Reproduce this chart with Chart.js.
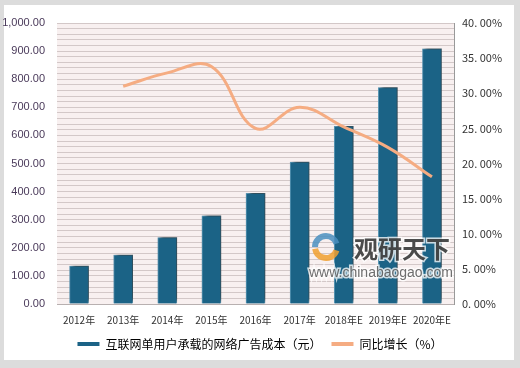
<!DOCTYPE html>
<html>
<head>
<meta charset="utf-8">
<script src="https://cdn.jsdelivr.net/npm/chart.js@4/dist/chart.umd.min.js"></script>
<style>
  body { margin: 0; background: #dcdcdc; }
  #frame { position: absolute; left: 4px; top: 5px; width: 510px; height: 355px; background: #fff; }
  #c { position: absolute; left: 0; top: 0; }
</style>
</head>
<body>
<div id="frame"></div>
<canvas id="c" width="520" height="368"></canvas>
<script>
const years = ['2012年', '2013年', '2014年', '2015年', '2016年', '2017年', '2018年E', '2019年E', '2020年E'];
const adCost = [135, 174, 236, 314, 394, 505, 632, 770, 908];
const growth = [null, 31.0, 32.9, 33.8, 25.0, 28.0, 25.2, 22.3, 18.1];

// pink plot background
const plotBg = {
  id: 'plotBg',
  beforeDraw(chart) {
    const { ctx, chartArea: a } = chart;
    ctx.save();
    ctx.fillStyle = '#f8f0f0';
    ctx.fillRect(a.left, a.top, a.right - a.left, a.bottom - a.top);
    ctx.restore();
  }
};

// shadow behind bars
const barShadow = {
  id: 'barShadow',
  beforeDatasetDraw(chart, args) {
    if (args.index !== 0) return;
    const ctx = chart.ctx;
    ctx.save();
    ctx.shadowColor = 'rgba(0,0,0,0.55)';
    ctx.shadowBlur = 4;
    ctx.shadowOffsetX = 3;
    ctx.shadowOffsetY = -3;
  },
  afterDatasetDraw(chart, args) {
    if (args.index !== 0) return;
    chart.ctx.restore();
  }
};

const watermark = {
  id: 'watermark',
  afterDraw(chart) {
    const ctx = chart.ctx;
    ctx.save();
    ctx.globalAlpha = 0.85;
    ctx.lineWidth = 6;
    ctx.strokeStyle = '#4a8fc0';
    ctx.beginPath();
    ctx.arc(326, 247, 11, Math.PI * 1.0, Math.PI * 1.9);
    ctx.stroke();
    ctx.strokeStyle = '#f0a030';
    ctx.beginPath();
    ctx.arc(326, 247, 11, Math.PI * 0.1, Math.PI * 0.95);
    ctx.stroke();
    ctx.font = 'bold 24px "Noto Sans CJK SC"';
    ctx.textBaseline = 'middle';
    ctx.lineWidth = 3;
    ctx.strokeStyle = 'rgba(255,255,255,0.9)';
    ctx.strokeText('观研天下', 354, 249);
    ctx.fillStyle = '#2b2b2b';
    ctx.fillText('观研天下', 354, 249);
    ctx.font = '14px "Liberation Sans"';
    ctx.strokeText('www.chinabaogao.com', 309, 273);
    ctx.fillStyle = '#555';
    ctx.fillText('www.chinabaogao.com', 309, 273);
    ctx.restore();
  }
};

new Chart(document.getElementById('c'), {
  data: {
    labels: years,
    datasets: [
      {
        type: 'bar',
        label: '互联网单用户承载的网络广告成本（元）',
        data: adCost,
        backgroundColor: '#1b6386',
        borderColor: '#5d9ab8',
        borderWidth: 1,
        barThickness: 19,
        yAxisID: 'y',
        order: 2
      },
      {
        type: 'line',
        label: '同比增长（%）',
        data: growth,
        borderColor: '#f5ac82',
        backgroundColor: '#f5ac82',
        borderWidth: 3,
        pointRadius: 0,
        tension: 0.4,
        fill: false,
        yAxisID: 'y1',
        order: 1
      }
    ]
  },
  options: {
    responsive: false,
    animation: false,
    layout: { padding: { top: 23, bottom: 8, left: 0, right: 0 } },
    plugins: {
      tooltip: { enabled: false },
      legend: {
        position: 'bottom',
        labels: {
          boxWidth: 22,
          boxHeight: 4,
          padding: 10,
          color: '#333',
          font: { family: '"Noto Sans CJK SC"', size: 12 },
          generateLabels(chart) {
            return chart.data.datasets.map((d, i) => ({
              text: d.label,
              fillStyle: i === 0 ? '#1b6386' : '#f5ac82',
              strokeStyle: 'rgba(0,0,0,0)',
              lineWidth: 0,
              datasetIndex: i
            }));
          }
        }
      }
    },
    scales: {
      x: {
        grid: { display: false },
        border: { color: '#b8b0b0' },
        ticks: {
          autoSkip: false,
          maxRotation: 0,
          minRotation: 0,
          color: '#333',
          font: { family: '"Noto Sans CJK SC"', size: 10 },
          padding: 2
        }
      },
      y: {
        position: 'left',
        min: 0,
        max: 1000,
        afterFit(s) { s.width = 57; },
        grid: { color: '#d3c8c8', drawTicks: false },
        border: { display: false },
        ticks: {
          stepSize: 20,
          autoSkip: false,
          padding: 12,
          color: '#4a3a5a',
          font: { family: '"Liberation Sans"', size: 11 },
          callback: v => v % 100 === 0 ? v.toLocaleString('en-US', { minimumFractionDigits: 2 }) : ''
        }
      },
      y1: {
        position: 'right',
        min: 0,
        max: 40,
        afterFit(s) { s.width = 66; },
        grid: { display: false, drawOnChartArea: false, drawTicks: true, tickLength: 5 },
        border: { display: true, color: '#999' },
        ticks: {
          stepSize: 5,
          autoSkip: false,
          padding: 3,
          color: '#333',
          font: { family: '"Noto Sans CJK SC"', size: 11 },
          callback: v => v.toFixed(2).replace('.', '. ') + '%'
        }
      }
    }
  },
  plugins: [plotBg, barShadow, watermark]
});
</script>
</body>
</html>
